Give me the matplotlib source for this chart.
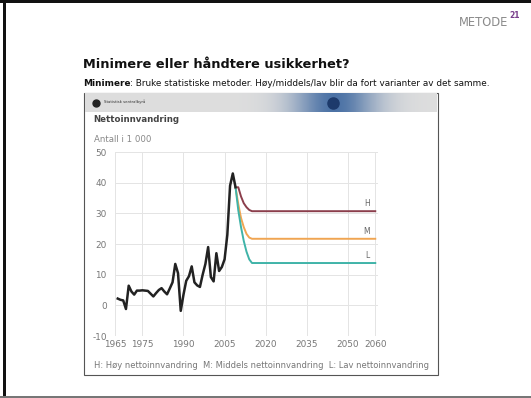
import numpy as np
import matplotlib
matplotlib.use("Agg")
import matplotlib.pyplot as plt
from matplotlib.patches import Rectangle

plt.rcParams["axes.unicode_minus"] = False

# historisk nettoinnvandring (antall i 1000)
hist_years = list(range(1966, 2010))
hist_vals = [2.2, 1.8, 1.6, -1.2, 6.4, 4.5, 3.5, 4.8, 4.8, 4.9,
             4.8, 4.7, 3.8, 2.9, 4.0, 5.0, 5.6, 4.5, 3.6, 5.5,
             7.5, 13.5, 10.5, -1.8, 3.5, 8.0, 9.5, 12.7, 7.5, 6.5,
             6.0, 10.0, 13.5, 19.0, 9.2, 7.8, 17.0, 11.2, 12.5, 15.0,
             23.0, 39.0, 43.0, 38.5]

# framskrivninger
proj_years = [2009, 2010, 2011, 2012, 2013, 2014, 2015, 2060]
high_vals = [38.5, 38.5, 35.5, 33.3, 32.0, 31.1, 30.7, 30.7]
mid_vals = [38.5, 33.0, 28.5, 25.5, 23.3, 22.1, 21.7, 21.7]
low_vals = [38.5, 31.0, 25.5, 21.0, 17.5, 15.0, 13.8, 13.8]

xticks = [1965, 1975, 1990, 2005, 2020, 2035, 2050, 2060]
yticks = [-10, 0, 10, 20, 30, 40, 50]

W, H = 531, 398
fig = plt.figure(figsize=(W / 100, H / 100), dpi=100)

def fx(x):
    return x / W

def fy(y):
    return 1 - y / H

# slide-ramme
fig.add_artist(Rectangle((0, fy(3)), 1, 3 / H, transform=fig.transFigure,
                         color="#111111", lw=0))
fig.add_artist(Rectangle((fx(3), 0), 2.5 / W, 1, transform=fig.transFigure,
                         color="#111111", lw=0))
fig.add_artist(Rectangle((0, 0), 1, 2.5 / H, transform=fig.transFigure,
                         color="#777777", lw=0))

fig.text(fx(508), fy(23), "METODE", color="#8a8a8a", fontsize=8.3,
         ha="right", va="center")
fig.text(fx(509), fy(15), "21", color="#7a3f8c", fontsize=5.5,
         fontweight="bold", ha="left", va="center")

fig.text(fx(83), fy(65), "Minimere eller håndtere usikkerhet?",
         fontsize=9.3, fontweight="heavy",
         ha="left", va="center", color="#111111")
t1 = fig.text(fx(83), fy(84), "Minimere", fontsize=6.4, fontweight="bold",
              ha="left", va="center", color="#111111")
fig.canvas.draw()
bb = t1.get_window_extent()
fig.text(bb.x1 / W, fy(84),
         ": Bruke statistiske metoder. Høy/middels/lav blir da fort varianter av det samme.",
         fontsize=6.4, ha="left", va="center", color="#111111")

# bilde-ramme
fig.add_artist(Rectangle((fx(84), fy(375)), (438 - 84) / W, (375 - 93) / H,
                         transform=fig.transFigure, facecolor="white",
                         edgecolor="#555555", lw=0.8, zorder=-1))

# banner
bax = fig.add_axes([fx(85), fy(112), (437 - 85) / W, 19 / H])
grad = np.linspace(0, 1, 300)
img = np.zeros((10, 300, 3))
base = np.array([0.87, 0.87, 0.87])
blue = np.array([0.30, 0.45, 0.65])
w = np.exp(-((grad - 0.71) / 0.12) ** 2)
for i in range(3):
    img[:, :, i] = base[i] * (1 - w) + blue[i] * w
bax.imshow(img, aspect="auto", extent=[0, 1, 0, 1])
bax.plot([0.03], [0.5], "o", ms=5, color="#222222")
bax.plot([0.705], [0.45], "o", ms=8, color="#1d3a6b")
bax.text(0.055, 0.55, "Statistisk sentralbyrå", fontsize=2.8,
         color="#333333", va="center")
bax.set_xlim(0, 1)
bax.set_ylim(0, 1)
bax.set_axis_off()

fig.text(fx(93), fy(120), "Nettoinnvandring", fontsize=6.2,
         fontweight="bold", color="#444444", ha="left", va="center")
fig.text(fx(94), fy(140), "Antall i 1 000", fontsize=6.2,
         color="#888888", ha="left", va="center")
fig.text(fx(94), fy(366),
         "H: Høy nettoinnvandring  M: Middels nettoinnvandring  L: Lav nettoinnvandring",
         fontsize=6.05, color="#777777", ha="left", va="center")

ax = fig.add_axes([fx(115), fy(336), (378 - 115) / W, (336 - 152) / H])
ax.set_xlim(1965, 2061)
ax.set_ylim(-10, 50)
ax.set_xticks(xticks)
ax.set_yticks(yticks)
ax.grid(True, color="#e4e4e4", lw=0.7)
ax.set_axisbelow(True)
ax.patch.set_alpha(0)
for s in ax.spines.values():
    s.set_visible(False)
ax.tick_params(length=0, labelsize=6.4, colors="#777777")
ax.tick_params(axis="y", pad=6)
ax.tick_params(axis="x", pad=3)

ax.plot(proj_years, high_vals, color="#8b3e4c", lw=1.4)
ax.plot(proj_years, mid_vals, color="#f0a552", lw=1.4)
ax.plot(proj_years, low_vals, color="#3fb3a8", lw=1.4)
ax.plot(hist_years, hist_vals, color="#222222", lw=1.8)

ax.text(2057, high_vals[-1] + 1, "H", fontsize=5.5, color="#666666",
        ha="center", va="bottom")
ax.text(2057, mid_vals[-1] + 1, "M", fontsize=5.5, color="#666666",
        ha="center", va="bottom")
ax.text(2057, low_vals[-1] + 1, "L", fontsize=5.5, color="#666666",
        ha="center", va="bottom")

fig.savefig("out.png", dpi=100)
